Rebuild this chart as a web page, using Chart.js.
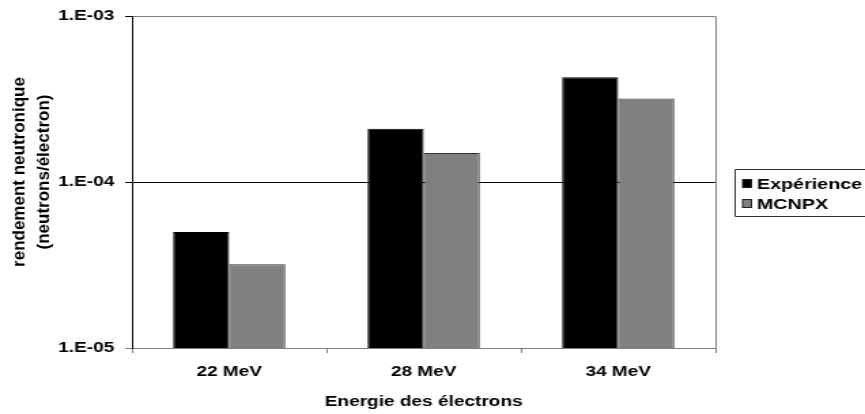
<!DOCTYPE html>
<html>
<head>
<meta charset="utf-8">
<script src="https://cdn.jsdelivr.net/npm/chart.js@4/dist/chart.umd.min.js"></script>
<style>
    html, body { margin: 0; padding: 0; background: #fff; overflow: hidden; }
    /* the original picture is stretched horizontally, so draw narrow and widen */
    #chart { display: block; transform: scaleX(1.3601); transform-origin: 0 0; }
</style>
</head>
<body>
<canvas id="chart" width="636" height="414"></canvas>
<script>
// data
const categories = ['22 MeV', '28 MeV', '34 MeV'];
const experience = [5.0e-5, 2.1e-4, 4.3e-4];
const mcnpx = [3.2e-5, 1.5e-4, 3.2e-4];
const yTickValues = [1e-5, 1e-4, 1e-3];
const yTickLabels = ['1.E-05', '1.E-04', '1.E-03'];
const seriesNames = ['Expérience', 'MCNPX'];
const yTitle = ['rendement neutronique', '(neutrons/électron)'];

const STRETCH = 1.3601;
const FONT = '"Liberation Sans", Arial, sans-serif';

// plot frame on the right, boxed legend, and the y title (not stretched in the original)
const framePlugin = {
    id: 'frame',
    afterDraw(chart) {
        const ctx = chart.ctx;
        const area = chart.chartArea;
        ctx.save();
        ctx.strokeStyle = '#808080';
        ctx.lineWidth = 1;
        ctx.beginPath();
        ctx.moveTo(Math.round(area.right) + 0.5, area.top);
        ctx.lineTo(Math.round(area.right) + 0.5, area.bottom);
        ctx.stroke();

        // legend box (runs off the right edge like the original)
        const left = 540.5, top = 169.5, bottom = 216.5;
        ctx.strokeStyle = '#333';
        ctx.beginPath();
        ctx.moveTo(chart.width + 2, top);
        ctx.lineTo(left, top);
        ctx.lineTo(left, bottom);
        ctx.lineTo(chart.width + 2, bottom);
        ctx.stroke();

        ctx.font = 'bold 14.5px ' + FONT;
        ctx.textBaseline = 'middle';
        const rows = [183.5, 203.5];
        chart.data.datasets.forEach((ds, i) => {
            ctx.fillStyle = ds.backgroundColor;
            ctx.fillRect(546, rows[i] - 4, 6.5, 8);
            ctx.strokeStyle = '#222';
            ctx.strokeRect(546, rows[i] - 4, 6.5, 8);
            ctx.fillStyle = '#000';
            ctx.fillText(ds.label, 556.5, rows[i] + 1);
        });
        ctx.restore();

        // y title, drawn in screen pixels
        ctx.save();
        ctx.scale(1 / STRETCH, 1);
        ctx.translate(20, 172);
        ctx.rotate(-Math.PI / 2);
        ctx.font = 'bold 17px ' + FONT;
        ctx.fillStyle = '#000';
        ctx.textAlign = 'center';
        ctx.textBaseline = 'middle';
        yTitle.forEach((line, i) => ctx.fillText(line, 0, i * 23.6));
        ctx.restore();
    }
};

new Chart(document.getElementById('chart'), {
    type: 'bar',
    data: {
        labels: categories,
        datasets: [{
            label: seriesNames[0],
            data: experience,
            backgroundColor: '#000000',
            borderColor: '#000000',
            borderWidth: 1,
            categoryPercentage: 0.577,
            barPercentage: 1.0
        }, {
            label: seriesNames[1],
            data: mcnpx,
            backgroundColor: '#808080',
            borderColor: '#333333',
            borderWidth: 1,
            categoryPercentage: 0.577,
            barPercentage: 1.0
        }]
    },
    options: {
        responsive: false,
        devicePixelRatio: 1,
        animation: false,
        layout: {
            padding: { top: 15, right: 110, bottom: 0, left: 0 }
        },
        plugins: {
            legend: { display: false },
            tooltip: { enabled: false }
        },
        scales: {
            x: {
                grid: {
                    offset: true,
                    drawOnChartArea: false,
                    tickLength: 5,
                    color: '#808080'
                },
                border: { color: '#808080', width: 1 },
                ticks: {
                    color: '#000',
                    padding: 11,
                    maxRotation: 0,
                    font: { family: FONT, size: 14, weight: 'bold' }
                },
                title: {
                    display: true,
                    text: 'Energie des électrons',
                    color: '#000',
                    padding: { top: 0, bottom: 3 },
                    font: { family: FONT, size: 14, weight: 'bold' }
                },
                afterFit(scale) { scale.height = 66; }
            },
            y: {
                type: 'logarithmic',
                min: 1e-5,
                max: 1e-3,
                afterBuildTicks(scale) {
                    scale.ticks = yTickValues.map(v => ({ value: v, major: true }));
                },
                grid: {
                    tickLength: 5,
                    color: c => (c.tick && c.tick.value === 1e-4) ? '#000000' : '#808080',
                    tickColor: c => (c.tick && c.tick.value === 1e-5) ? '#808080' : '#000000'
                },
                border: { color: '#000', width: 1 },
                ticks: {
                    color: '#000',
                    padding: 8,
                    font: { family: FONT, size: 14, weight: 'bold' },
                    callback: value => yTickLabels[yTickValues.indexOf(value)]
                },
                title: { display: false },
                afterFit(scale) { scale.width = 97; }
            }
        }
    },
    plugins: [framePlugin]
});
</script>
</body>
</html>
